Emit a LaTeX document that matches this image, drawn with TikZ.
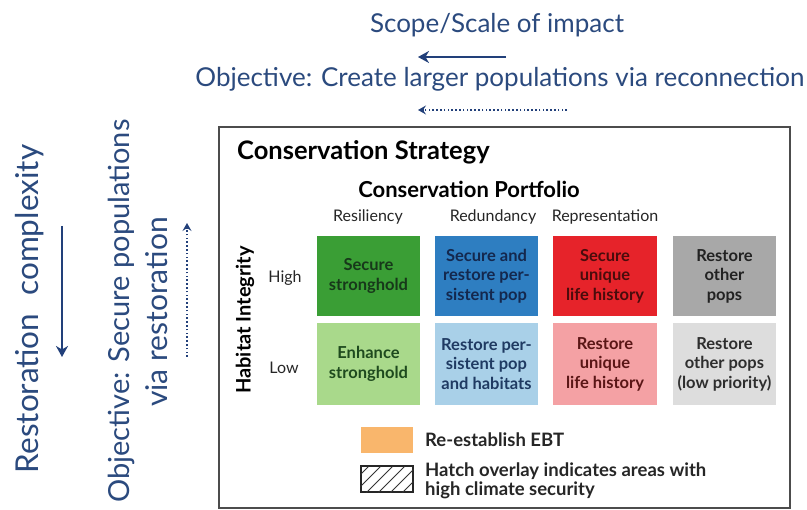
\documentclass[tikz,border=0pt]{standalone}
\usepackage{fontspec}
\setmainfont{Lato}
\usetikzlibrary{arrows.meta,calc}
\definecolor{navy}{HTML}{2B4A7E}
\definecolor{arrowblue}{HTML}{22407A}
\definecolor{gH}{HTML}{3A9E35}\definecolor{gL}{HTML}{A9D98B}
\definecolor{bH}{HTML}{2E7EC1}\definecolor{bL}{HTML}{A9D0E8}
\definecolor{rH}{HTML}{E6232A}\definecolor{rL}{HTML}{F4A1A4}
\definecolor{kH}{HTML}{A8A8A8}\definecolor{kL}{HTML}{DDDDDD}
\definecolor{orng}{HTML}{F9B66C}
\definecolor{tgH}{HTML}{17381A}\definecolor{tgL}{HTML}{1E4A1E}
\definecolor{tbH}{HTML}{14284E}\definecolor{tbL}{HTML}{1F3A62}
\definecolor{trH}{HTML}{4A0C0C}\definecolor{trL}{HTML}{5A1616}
\definecolor{tkH}{HTML}{222222}\definecolor{tkL}{HTML}{2E2E2E}
\tikzset{
  bigtxt/.style={text=navy,font=\fontsize{26}{30}\selectfont,inner sep=0pt},
  sidetxt/.style={text=navy,font=\fontsize{29}{33}\selectfont,inner sep=0pt,rotate=90},
  cellbox/.style={minimum width=103pt,inner sep=0pt,align=center,
    font=\bfseries\fontsize{16.5}{19.5}\selectfont},
  hdr/.style={font=\fontsize{16}{18}\selectfont,inner sep=0pt,text=black!85},
  legtxt/.style={font=\bfseries\fontsize{18.5}{19.5}\selectfont,inner sep=0pt,anchor=west,align=left,text=black!85},
  solidarrow/.style={draw=arrowblue,line width=2.8pt,-{Stealth[length=11pt,width=12pt,inset=3.5pt]}},
  dotarrow/.style={draw=arrowblue,line width=1.6pt,dash pattern=on 1.6pt off 2.2pt,-{Stealth[length=8pt,width=9pt,inset=3pt]}},
}
\begin{document}
\begin{tikzpicture}[x=1pt,y=-1pt]
\useasboundingbox (0,0) rectangle (807,510);
\fill[white] (0,0) rectangle (807,510);
% top texts
\node[bigtxt] (scope) at (497,25) {Scope/Scale of impact};
\coordinate (sA) at (506,57); \coordinate (sB) at (418,57);
\draw[solidarrow] (sA) -- (sB);
\node[bigtxt] (objH) at (500,79) {Objective: Create larger populations via reconnection};
\coordinate (dA) at (567,110); \coordinate (dB) at (418,110);
\draw[dotarrow] (dA) -- (dB);
% left texts
\node[sidetxt,font=\fontsize{31.5}{33}\selectfont] (restc) at (30,309) {Restoration\hspace{18pt}complexity};
\coordinate (rA) at (62,226); \coordinate (rB) at (62,357);
\draw[solidarrow] (rA) -- (rB);
\node[sidetxt] (objV1) at (121,311) {Objective: Secure populations};
\node[sidetxt,font=\fontsize{30}{33}\selectfont] (objV2) at (157,312) {via restoration};
\coordinate (vA) at (187,357); \coordinate (vB) at (187,223);
\draw[dotarrow] (vA) -- (vB);
% main box
\draw[black!70,line width=1.6pt] (219,127) rectangle (790,508);
\node[font=\bfseries\fontsize{25.5}{28}\selectfont,anchor=west,inner sep=0pt] (cs) at (237,152) {Conservation Strategy};
\node[font=\bfseries\fontsize{22}{24}\selectfont,inner sep=0pt] (cp) at (469,189) {Conservation Portfolio};
\node[hdr] (h1) at (368,217) {Resiliency};
\node[hdr] (h2) at (493,217) {Redundancy};
\node[hdr] (h3) at (605,217) {Representation};
\node[font=\bfseries\fontsize{20}{22}\selectfont,rotate=90,inner sep=0pt] (hi) at (245,320) {Habitat Integrity};
\node[hdr] (high) at (285,278) {High};
\node[hdr] (low) at (284,368) {Low};
% cells
\node[cellbox,minimum height=80pt,fill=gH,text=tgH] (c11) at (368.5,276) {Secure\\stronghold};
\node[cellbox,minimum height=80pt,fill=bH,text=tbH] (c12) at (486.5,276) {Secure and\\restore per-\\sistent pop};
\node[cellbox,minimum height=80pt,fill=rH,text=trH,minimum width=104pt] (c13) at (605,276) {Secure\\unique\\life history};
\node[cellbox,minimum height=80pt,fill=kH,text=tkH] (c14) at (724.5,276) {Restore\\other\\pops};
\node[cellbox,minimum height=82pt,fill=gL,text=tgL] (c21) at (368.5,364) {Enhance\\stronghold};
\node[cellbox,minimum height=82pt,fill=bL,text=tbL] (c22) at (486.5,364) {Restore per-\\sistent pop\\and habitats};
\node[cellbox,minimum height=82pt,fill=rL,text=trL,minimum width=104pt] (c23) at (605,364) {Restore\\unique\\life history};
\node[cellbox,minimum height=82pt,fill=kL,text=tkL] (c24) at (724.5,364) {Restore\\other pops\\(low priority)};
% legend
\node[fill=orng,minimum width=52pt,minimum height=26pt,inner sep=0pt] (sw1) at (387,440) {};
\node[legtxt] (l1) at (425,440) {Re-establish EBT};
\node[draw=black!85,line width=1.2pt,minimum width=52pt,minimum height=26pt,inner sep=0pt] (sw2) at (387,479) {};
\begin{scope}
\clip (sw2.south west) rectangle (sw2.north east);
\foreach \i in {-30,-18,...,60}{
  \draw[black!80,line width=0.8pt] ($(sw2.south west)+(\i,0)$) -- ++(26,-26);
}
\end{scope}
\node[legtxt] (l2) at (425,481) {Hatch overlay indicates areas with\\high climate security};
\end{tikzpicture}
\end{document}
